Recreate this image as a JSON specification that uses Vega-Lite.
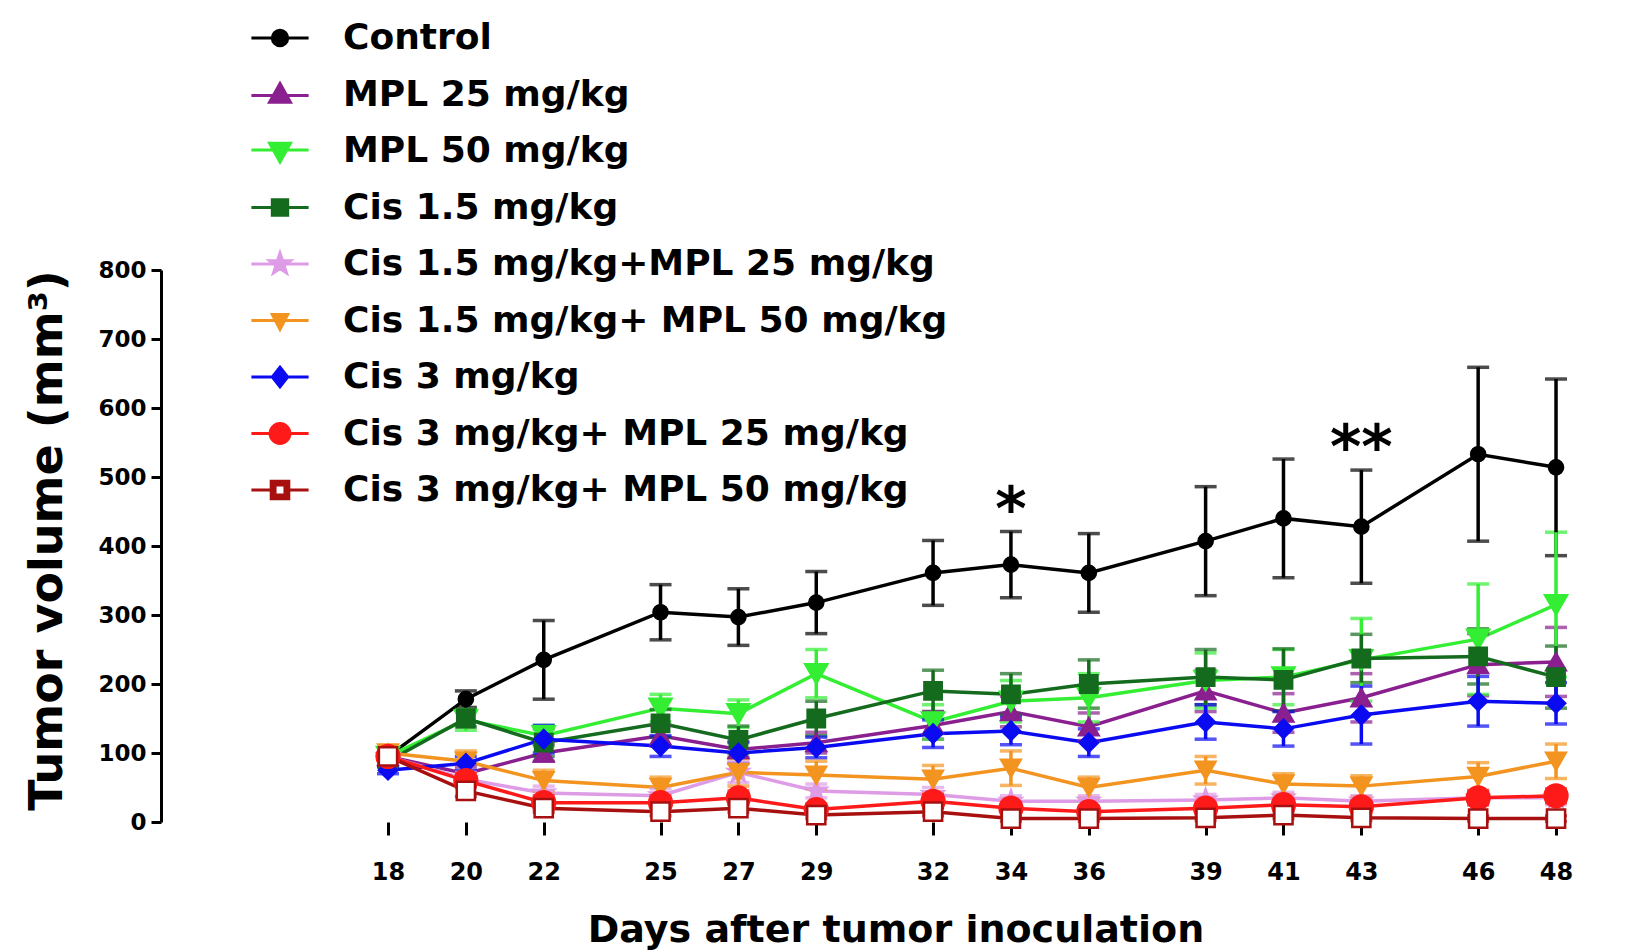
{
  "$schema": "https://vega.github.io/schema/vega-lite/v6.json",
  "width": 1469,
  "height": 552,
  "autosize": {"type": "none"},
  "padding": {"left": 161, "top": 270, "right": 0, "bottom": 130},
  "background": "white",
  "config": {
    "view": {"stroke": null},
    "font": "DejaVu Sans",
    "axis": {"labelFont": "DejaVu Sans", "labelFontWeight": "bold", "labelColor": "black", "titleFont": "DejaVu Sans", "titleFontWeight": "bold", "titleColor": "black", "grid": false, "domainColor": "black", "tickColor": "black", "domainWidth": 3, "tickWidth": 3},
    "legend": {"orient": "none", "legendX": 101, "legendY": -250, "padding": 0, "labelFont": "DejaVu Sans", "labelFontSize": 36, "labelFontWeight": "bold", "labelColor": "black", "labelLimit": 2000, "labelOffset": 45, "rowPadding": 20.5, "symbolSize": 484, "symbolStrokeWidth": 3, "symbolOpacity": 1}
  },
  "datasets": {
    "tumor": [
      {"group":"Control","day":18,"mean":95,"sem":8},{"group":"Control","day":20,"mean":178,"sem":12},{"group":"Control","day":22,"mean":235,"sem":57},{"group":"Control","day":25,"mean":304,"sem":40},{"group":"Control","day":27,"mean":297,"sem":41},{"group":"Control","day":29,"mean":318,"sem":45},{"group":"Control","day":32,"mean":361,"sem":47},{"group":"Control","day":34,"mean":373,"sem":48,"sig":"*"},{"group":"Control","day":36,"mean":361,"sem":57},{"group":"Control","day":39,"mean":407,"sem":79},{"group":"Control","day":41,"mean":440,"sem":86},{"group":"Control","day":43,"mean":428,"sem":82,"sig":"**"},{"group":"Control","day":46,"mean":533,"sem":126},{"group":"Control","day":48,"mean":514,"sem":128},
      {"group":"MPL 25 mg/kg","day":18,"mean":95,"sem":6},{"group":"MPL 25 mg/kg","day":20,"mean":70,"sem":10},{"group":"MPL 25 mg/kg","day":22,"mean":100,"sem":12},{"group":"MPL 25 mg/kg","day":25,"mean":125,"sem":15},{"group":"MPL 25 mg/kg","day":27,"mean":105,"sem":12},{"group":"MPL 25 mg/kg","day":29,"mean":115,"sem":15},{"group":"MPL 25 mg/kg","day":32,"mean":140,"sem":20},{"group":"MPL 25 mg/kg","day":34,"mean":160,"sem":22},{"group":"MPL 25 mg/kg","day":36,"mean":138,"sem":20},{"group":"MPL 25 mg/kg","day":39,"mean":190,"sem":30},{"group":"MPL 25 mg/kg","day":41,"mean":158,"sem":28},{"group":"MPL 25 mg/kg","day":43,"mean":180,"sem":35},{"group":"MPL 25 mg/kg","day":46,"mean":228,"sem":45},{"group":"MPL 25 mg/kg","day":48,"mean":232,"sem":50},
      {"group":"MPL 50 mg/kg","day":18,"mean":95,"sem":5},{"group":"MPL 50 mg/kg","day":20,"mean":148,"sem":15},{"group":"MPL 50 mg/kg","day":22,"mean":125,"sem":15},{"group":"MPL 50 mg/kg","day":25,"mean":165,"sem":20},{"group":"MPL 50 mg/kg","day":27,"mean":157,"sem":20},{"group":"MPL 50 mg/kg","day":29,"mean":215,"sem":35},{"group":"MPL 50 mg/kg","day":32,"mean":145,"sem":25},{"group":"MPL 50 mg/kg","day":34,"mean":175,"sem":30},{"group":"MPL 50 mg/kg","day":36,"mean":180,"sem":35},{"group":"MPL 50 mg/kg","day":39,"mean":205,"sem":40},{"group":"MPL 50 mg/kg","day":41,"mean":210,"sem":40},{"group":"MPL 50 mg/kg","day":43,"mean":235,"sem":60},{"group":"MPL 50 mg/kg","day":46,"mean":265,"sem":80},{"group":"MPL 50 mg/kg","day":48,"mean":315,"sem":105},
      {"group":"Cis 1.5 mg/kg","day":18,"mean":88,"sem":8},{"group":"Cis 1.5 mg/kg","day":20,"mean":150,"sem":12},{"group":"Cis 1.5 mg/kg","day":22,"mean":115,"sem":20},{"group":"Cis 1.5 mg/kg","day":25,"mean":143,"sem":20},{"group":"Cis 1.5 mg/kg","day":27,"mean":119,"sem":20},{"group":"Cis 1.5 mg/kg","day":29,"mean":150,"sem":25},{"group":"Cis 1.5 mg/kg","day":32,"mean":190,"sem":30},{"group":"Cis 1.5 mg/kg","day":34,"mean":185,"sem":30},{"group":"Cis 1.5 mg/kg","day":36,"mean":200,"sem":35},{"group":"Cis 1.5 mg/kg","day":39,"mean":210,"sem":40},{"group":"Cis 1.5 mg/kg","day":41,"mean":206,"sem":45},{"group":"Cis 1.5 mg/kg","day":43,"mean":237,"sem":35},{"group":"Cis 1.5 mg/kg","day":46,"mean":240,"sem":40},{"group":"Cis 1.5 mg/kg","day":48,"mean":210,"sem":45},
      {"group":"Cis 1.5 mg/kg+MPL 25 mg/kg","day":18,"mean":95,"sem":6},{"group":"Cis 1.5 mg/kg+MPL 25 mg/kg","day":20,"mean":62,"sem":10},{"group":"Cis 1.5 mg/kg+MPL 25 mg/kg","day":22,"mean":42,"sem":10},{"group":"Cis 1.5 mg/kg+MPL 25 mg/kg","day":25,"mean":38,"sem":10},{"group":"Cis 1.5 mg/kg+MPL 25 mg/kg","day":27,"mean":72,"sem":15},{"group":"Cis 1.5 mg/kg+MPL 25 mg/kg","day":29,"mean":45,"sem":10},{"group":"Cis 1.5 mg/kg+MPL 25 mg/kg","day":32,"mean":40,"sem":10},{"group":"Cis 1.5 mg/kg+MPL 25 mg/kg","day":34,"mean":30,"sem":8},{"group":"Cis 1.5 mg/kg+MPL 25 mg/kg","day":36,"mean":30,"sem":8},{"group":"Cis 1.5 mg/kg+MPL 25 mg/kg","day":39,"mean":32,"sem":8},{"group":"Cis 1.5 mg/kg+MPL 25 mg/kg","day":41,"mean":35,"sem":8},{"group":"Cis 1.5 mg/kg+MPL 25 mg/kg","day":43,"mean":30,"sem":8},{"group":"Cis 1.5 mg/kg+MPL 25 mg/kg","day":46,"mean":35,"sem":10},{"group":"Cis 1.5 mg/kg+MPL 25 mg/kg","day":48,"mean":35,"sem":10},
      {"group":"Cis 1.5 mg/kg+ MPL 50 mg/kg","day":18,"mean":100,"sem":6},{"group":"Cis 1.5 mg/kg+ MPL 50 mg/kg","day":20,"mean":88,"sem":15},{"group":"Cis 1.5 mg/kg+ MPL 50 mg/kg","day":22,"mean":60,"sem":15},{"group":"Cis 1.5 mg/kg+ MPL 50 mg/kg","day":25,"mean":50,"sem":15},{"group":"Cis 1.5 mg/kg+ MPL 50 mg/kg","day":27,"mean":72,"sem":20},{"group":"Cis 1.5 mg/kg+ MPL 50 mg/kg","day":29,"mean":68,"sem":20},{"group":"Cis 1.5 mg/kg+ MPL 50 mg/kg","day":32,"mean":62,"sem":20},{"group":"Cis 1.5 mg/kg+ MPL 50 mg/kg","day":34,"mean":78,"sem":25},{"group":"Cis 1.5 mg/kg+ MPL 50 mg/kg","day":36,"mean":50,"sem":15},{"group":"Cis 1.5 mg/kg+ MPL 50 mg/kg","day":39,"mean":75,"sem":20},{"group":"Cis 1.5 mg/kg+ MPL 50 mg/kg","day":41,"mean":55,"sem":15},{"group":"Cis 1.5 mg/kg+ MPL 50 mg/kg","day":43,"mean":52,"sem":15},{"group":"Cis 1.5 mg/kg+ MPL 50 mg/kg","day":46,"mean":66,"sem":20},{"group":"Cis 1.5 mg/kg+ MPL 50 mg/kg","day":48,"mean":88,"sem":25},
      {"group":"Cis 3 mg/kg","day":18,"mean":75,"sem":5},{"group":"Cis 3 mg/kg","day":20,"mean":85,"sem":10},{"group":"Cis 3 mg/kg","day":22,"mean":120,"sem":20},{"group":"Cis 3 mg/kg","day":25,"mean":110,"sem":15},{"group":"Cis 3 mg/kg","day":27,"mean":100,"sem":15},{"group":"Cis 3 mg/kg","day":29,"mean":108,"sem":15},{"group":"Cis 3 mg/kg","day":32,"mean":128,"sem":20},{"group":"Cis 3 mg/kg","day":34,"mean":132,"sem":20},{"group":"Cis 3 mg/kg","day":36,"mean":115,"sem":20},{"group":"Cis 3 mg/kg","day":39,"mean":145,"sem":25},{"group":"Cis 3 mg/kg","day":41,"mean":135,"sem":25},{"group":"Cis 3 mg/kg","day":43,"mean":155,"sem":42},{"group":"Cis 3 mg/kg","day":46,"mean":175,"sem":36},{"group":"Cis 3 mg/kg","day":48,"mean":172,"sem":30},
      {"group":"Cis 3 mg/kg+ MPL 25 mg/kg","day":18,"mean":95,"sem":5},{"group":"Cis 3 mg/kg+ MPL 25 mg/kg","day":20,"mean":60,"sem":10},{"group":"Cis 3 mg/kg+ MPL 25 mg/kg","day":22,"mean":28,"sem":10},{"group":"Cis 3 mg/kg+ MPL 25 mg/kg","day":25,"mean":28,"sem":10},{"group":"Cis 3 mg/kg+ MPL 25 mg/kg","day":27,"mean":35,"sem":10},{"group":"Cis 3 mg/kg+ MPL 25 mg/kg","day":29,"mean":18,"sem":8},{"group":"Cis 3 mg/kg+ MPL 25 mg/kg","day":32,"mean":30,"sem":10},{"group":"Cis 3 mg/kg+ MPL 25 mg/kg","day":34,"mean":20,"sem":8},{"group":"Cis 3 mg/kg+ MPL 25 mg/kg","day":36,"mean":15,"sem":8},{"group":"Cis 3 mg/kg+ MPL 25 mg/kg","day":39,"mean":20,"sem":8},{"group":"Cis 3 mg/kg+ MPL 25 mg/kg","day":41,"mean":25,"sem":8},{"group":"Cis 3 mg/kg+ MPL 25 mg/kg","day":43,"mean":22,"sem":8},{"group":"Cis 3 mg/kg+ MPL 25 mg/kg","day":46,"mean":35,"sem":10},{"group":"Cis 3 mg/kg+ MPL 25 mg/kg","day":48,"mean":38,"sem":10},
      {"group":"Cis 3 mg/kg+ MPL 50 mg/kg","day":18,"mean":95,"sem":5},{"group":"Cis 3 mg/kg+ MPL 50 mg/kg","day":20,"mean":45,"sem":8},{"group":"Cis 3 mg/kg+ MPL 50 mg/kg","day":22,"mean":20,"sem":6},{"group":"Cis 3 mg/kg+ MPL 50 mg/kg","day":25,"mean":15,"sem":6},{"group":"Cis 3 mg/kg+ MPL 50 mg/kg","day":27,"mean":20,"sem":6},{"group":"Cis 3 mg/kg+ MPL 50 mg/kg","day":29,"mean":10,"sem":5},{"group":"Cis 3 mg/kg+ MPL 50 mg/kg","day":32,"mean":15,"sem":6},{"group":"Cis 3 mg/kg+ MPL 50 mg/kg","day":34,"mean":5,"sem":4},{"group":"Cis 3 mg/kg+ MPL 50 mg/kg","day":36,"mean":5,"sem":4},{"group":"Cis 3 mg/kg+ MPL 50 mg/kg","day":39,"mean":6,"sem":4},{"group":"Cis 3 mg/kg+ MPL 50 mg/kg","day":41,"mean":10,"sem":5},{"group":"Cis 3 mg/kg+ MPL 50 mg/kg","day":43,"mean":6,"sem":4},{"group":"Cis 3 mg/kg+ MPL 50 mg/kg","day":46,"mean":5,"sem":4},{"group":"Cis 3 mg/kg+ MPL 50 mg/kg","day":48,"mean":5,"sem":4}
    ]
  },
  "data": {"name": "tumor"},
  "encoding": {
    "x": {"field": "day", "type": "quantitative", "scale": {"domain": [12.17, 49.9], "nice": false, "zero": false},
      "axis": {"values": [18,20,22,25,27,29,32,34,36,39,41,43,46,48], "domain": false, "tickSize": 13, "labelPadding": 25, "labelFontSize": 24, "title": "Days after tumor inoculation", "titleFontSize": 38, "titleY": 119, "titleBaseline": "alphabetic"}},
    "y": {"field": "mean", "type": "quantitative", "title": "Tumor volume (mm³)", "scale": {"domain": [0, 800], "nice": false},
      "axis": {"values": [0,100,200,300,400,500,600,700,800], "tickSize": 10, "labelPadding": 5, "labelFontSize": 23, "titleFontSize": 46, "titleX": -114, "titleY": 270, "titleAngle": -90, "titleBaseline": "middle"}}
  },
  "layer": [
    {
      "data": {"values": [{}]},
      "mark": {"type": "rule", "color": "black", "strokeWidth": 3},
      "encoding": {"x": {"datum": 12.17, "type": "quantitative"}, "x2": {"datum": 16.05}, "y": {"datum": 0, "type": "quantitative"}}
    },
    {
      "data": {"values": [{}]},
      "mark": {"type": "rule", "color": "black", "strokeWidth": 3},
      "encoding": {"x": {"datum": 17.05, "type": "quantitative"}, "x2": {"datum": 49.9}, "y": {"datum": 0, "type": "quantitative"}}
    },
    {
      "data": {"values": [{}]},
      "mark": {"type": "rule", "color": "black", "strokeWidth": 3},
      "encoding": {"x": {"datum": 16.05, "type": "quantitative"}, "y": {"datum": -18, "type": "quantitative"}, "y2": {"datum": 17}}
    },
    {
      "data": {"values": [{}]},
      "mark": {"type": "rule", "color": "black", "strokeWidth": 3},
      "encoding": {"x": {"datum": 17.05, "type": "quantitative"}, "y": {"datum": -18, "type": "quantitative"}, "y2": {"datum": 17}}
    },
    {
      "mark": {"type": "line", "strokeWidth": 3.5},
      "encoding": {
        "color": {"field": "group", "type": "nominal",
          "scale": {"domain": ["Control","MPL 25 mg/kg","MPL 50 mg/kg","Cis 1.5 mg/kg","Cis 1.5 mg/kg+MPL 25 mg/kg","Cis 1.5 mg/kg+ MPL 50 mg/kg","Cis 3 mg/kg","Cis 3 mg/kg+ MPL 25 mg/kg","Cis 3 mg/kg+ MPL 50 mg/kg"],
            "range": ["#000000","#8A1F8F","#33EE33","#146B1E","#DE9BE6","#F39420","#0B0BF2","#FF1A1A","#A81010"]},
          "legend": {"title": null, "orient": "none", "legendX": 101, "legendY": -250}}
      }
    },
    {
      "mark": {"type": "errorbar", "ticks": true, "size": 22, "thickness": 3.5},
      "encoding": {
        "yError": {"field": "sem"},
        "color": {"field": "group", "type": "nominal"}
      }
    },
    {
      "mark": {"type": "point", "filled": false, "opacity": 1, "strokeWidth": 2.5,
        "shape": {"expr": "['circle','triangle-up','triangle-down','square','M0,-1L0.235,-0.324L0.951,-0.309L0.38,0.124L0.588,0.809L0,0.4L-0.588,0.809L-0.38,0.124L-0.951,-0.309L-0.235,-0.324Z','triangle-down','diamond','circle','square'][indexof(domain('color'), datum.group)]"},
        "size": {"expr": "[200,380,480,300,450,380,330,520,330][indexof(domain('color'), datum.group)]"},
        "fill": {"expr": "datum.group === 'Cis 3 mg/kg+ MPL 50 mg/kg' ? '#FFFFFF' : scale('color', datum.group)"}},
      "encoding": {
        "color": {"field": "group", "type": "nominal"}
      }
    },
    {
      "transform": [{"filter": "datum.day === 18"}],
      "mark": {"type": "point", "filled": true, "opacity": 0},
      "encoding": {
        "color": {"field": "group", "type": "nominal"},
        "shape": {"field": "group", "type": "nominal",
          "scale": {"domain": ["Control","MPL 25 mg/kg","MPL 50 mg/kg","Cis 1.5 mg/kg","Cis 1.5 mg/kg+MPL 25 mg/kg","Cis 1.5 mg/kg+ MPL 50 mg/kg","Cis 3 mg/kg","Cis 3 mg/kg+ MPL 25 mg/kg","Cis 3 mg/kg+ MPL 50 mg/kg"],
            "range": ["M-2.6,0H2.6M0.7,0A0.7,0.7 0 1 1 -0.7,0A0.7,0.7 0 1 1 0.7,0Z","M-2.6,0.1H2.6M0,-1L0.95,0.7L-0.95,0.7Z","M-2.6,-0.1H2.6M0,1L0.95,-0.7L-0.95,-0.7Z","M-2.6,0H2.6M-0.7,-0.7H0.7V0.7H-0.7Z","M-2.6,0H2.6M0,-1L0.235,-0.324L0.951,-0.309L0.38,0.124L0.588,0.809L0,0.4L-0.588,0.809L-0.38,0.124L-0.951,-0.309L-0.235,-0.324Z","M-2.6,0H2.6M0,0.8L0.7,-0.55L-0.7,-0.55Z","M-2.6,0H2.6M0,-0.9L0.7,0L0,0.9L-0.7,0Z","M-2.6,0H2.6M0.9,0A0.9,0.9 0 1 1 -0.9,0A0.9,0.9 0 1 1 0.9,0Z","M-2.6,0H-0.8M0.8,0H2.6M-0.8,-0.8H0.8V0.8H-0.8ZM-0.45,-0.45V0.45H0.45V-0.45Z"]},
          "legend": {"title": null, "orient": "none", "legendX": 101, "legendY": -250}}
      }
    },
    {
      "transform": [{"filter": "isValid(datum.sig)"}, {"calculate": "datum.mean + datum.sem", "as": "top"}],
      "mark": {"type": "text", "font": "DejaVu Sans", "fontWeight": "bold", "fontSize": 60, "baseline": "alphabetic", "dy": -2, "color": "black"},
      "encoding": {
        "y": {"field": "top", "type": "quantitative", "title": "Tumor volume (mm³)"},
        "text": {"field": "sig"}
      }
    }
  ]
}
